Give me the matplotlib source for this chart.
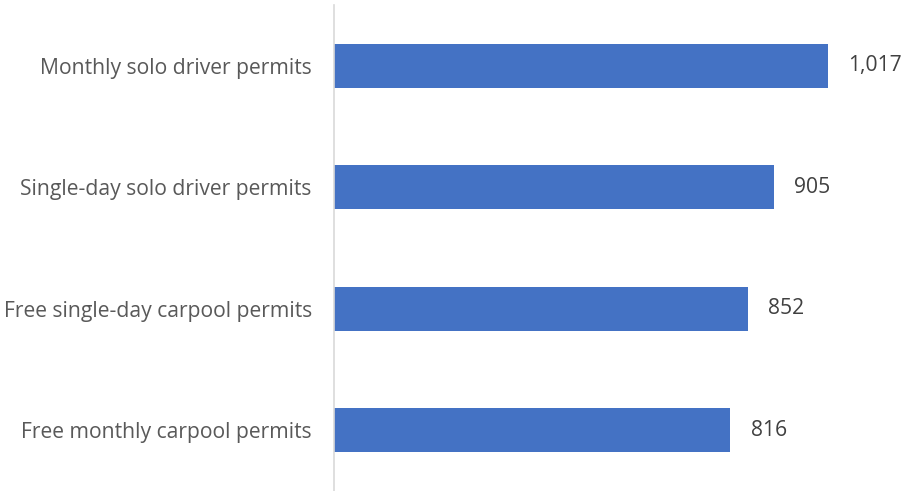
import matplotlib.pyplot as plt

categories = ["Monthly solo driver permits", "Single-day solo driver permits",
              "Free single-day carpool permits", "Free monthly carpool permits"]
values = [1017, 905, 852, 816]
value_labels = ["1,017", "905", "852", "816"]


def main():
    plt.rcParams['font.family'] = ['Open Sans', 'DejaVu Sans']
    fig = plt.figure(figsize=(9.06, 4.91), dpi=100)
    ax = fig.add_axes([334 / 906, 0.0, 1 - 334 / 906, 486 / 491])

    ypos = list(range(len(categories)))
    ax.barh(ypos, values, height=0.36, color='#4472C4')
    for y, v, lab in zip(ypos, values, value_labels):
        ax.text(v + 42, y, lab, va='center', ha='left', fontsize=15.2, color='#404040')

    ax.set_xlim(0, 572 / 0.4857)
    ax.set_ylim(3.5, -0.5)
    ax.set_yticks(ypos)
    ax.set_yticklabels(categories, fontsize=15.2, color='#595959')
    ax.tick_params(axis='y', length=0, pad=16)
    ax.set_xticks([])
    for s in ['top', 'right', 'bottom']:
        ax.spines[s].set_visible(False)
    ax.spines['left'].set_color('#D9D9D9')
    ax.spines['left'].set_linewidth(1.2)

    fig.savefig('out.png', dpi=100)


if __name__ == '__main__':
    main()
